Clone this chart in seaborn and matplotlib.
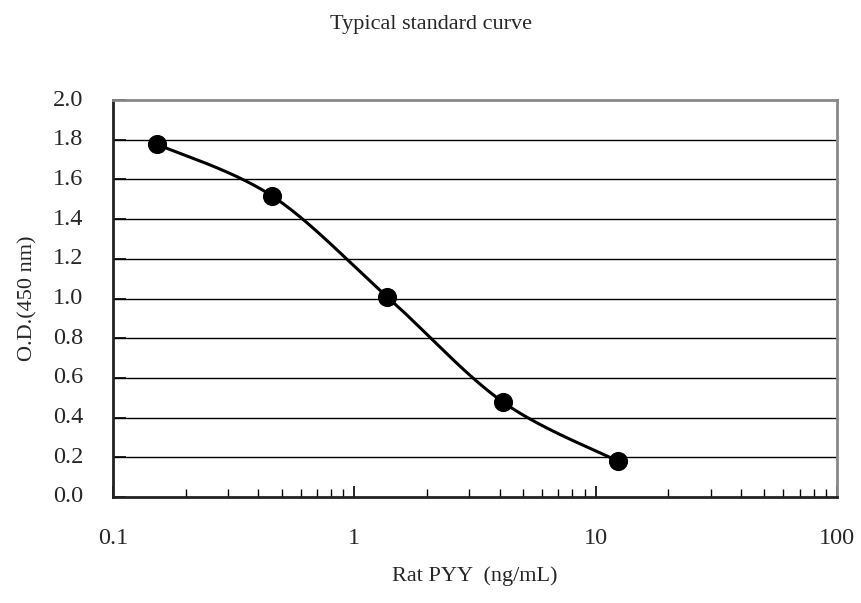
import numpy as np
import pandas as pd
import matplotlib
matplotlib.use("Agg")
import matplotlib.pyplot as plt
import seaborn as sns
from matplotlib.ticker import FixedLocator, LogLocator, NullFormatter, FixedFormatter

# ---- data ----
concentration = [0.152, 0.457, 1.37, 4.12, 12.35]
od_values = [1.777, 1.516, 1.008, 0.479, 0.181]
x_tick_values = [0.1, 1, 10, 100]
x_tick_labels = ["0.1", "1", "10", "100"]
y_tick_values = [0.0, 0.2, 0.4, 0.6, 0.8, 1.0, 1.2, 1.4, 1.6, 1.8, 2.0]
title_text = "Typical standard curve"
x_label = "Rat PYY  (ng/mL)"
y_label = "O.D.(450 nm)"

sns.set_theme(style="white")
plt.rcParams["font.family"] = ["Liberation Serif", "DejaVu Serif"]

fig = plt.figure(figsize=(8.61, 6.03), dpi=100)
ax = fig.add_axes([113 / 861, 1 - 497 / 603, (837 - 113) / 861, (497 - 100) / 603])

# Excel-style smooth line (Catmull-Rom Bezier in display-like space)
u = np.log10(np.array(concentration)) * 242.0
v = np.array(od_values) * 198.5
P = np.column_stack([u, v])
Pext = np.vstack([P[0], P, P[-1]])
t = np.linspace(0, 1, 60)
curve = []
for i in range(len(P) - 1):
    p0, p1, p2, p3 = Pext[i], Pext[i + 1], Pext[i + 2], Pext[i + 3]
    c1 = p1 + (p2 - p0) / 6.0
    c2 = p2 - (p3 - p1) / 6.0
    seg = ((1 - t) ** 3)[:, None] * p1 + (3 * (1 - t) ** 2 * t)[:, None] * c1 \
        + (3 * (1 - t) * t ** 2)[:, None] * c2 + (t ** 3)[:, None] * p2
    curve.append(seg if i == 0 else seg[1:])
curve = np.vstack(curve)
smooth = pd.DataFrame({"x": 10 ** (curve[:, 0] / 242.0), "y": curve[:, 1] / 198.5})
pts = pd.DataFrame({"x": concentration, "y": od_values})

ax.set_xscale("log")
for yv in y_tick_values[1:-1]:
    ax.axhline(yv, color="black", lw=1.0, zorder=1)
sns.lineplot(data=smooth, x="x", y="y", sort=False, color="black", lw=2.2, ax=ax, zorder=3)
sns.scatterplot(data=pts, x="x", y="y", color="black", s=190, edgecolor="black", linewidth=0, ax=ax, zorder=4)

ax.set_xlim(0.1, 100)
ax.set_ylim(0, 2.0)
ax.xaxis.set_major_locator(FixedLocator(x_tick_values))
ax.xaxis.set_major_formatter(FixedFormatter(x_tick_labels))
ax.xaxis.set_minor_locator(LogLocator(base=10, subs=np.arange(2, 10)))
ax.xaxis.set_minor_formatter(NullFormatter())
ax.yaxis.set_major_locator(FixedLocator(y_tick_values))
ax.set_yticklabels([f"{v:.1f}" for v in y_tick_values])

ax.tick_params(axis="x", which="major", direction="in", length=8, width=1.2, color="black",
               labelsize=17.5, pad=22, bottom=True)
ax.tick_params(axis="x", which="minor", direction="in", length=6, width=1.0, color="black", bottom=True)
ax.tick_params(axis="y", which="major", direction="in", length=9, width=1.2, color="black",
               labelsize=17.5, pad=21.5, left=True)
for lbl in ax.get_yticklabels():
    lbl.set_verticalalignment("center")

for side in ["left", "bottom"]:
    ax.spines[side].set_color("#222222")
    ax.spines[side].set_linewidth(2.0)
for side in ["top", "right"]:
    ax.spines[side].set_color("#888888")
    ax.spines[side].set_linewidth(2.0)

ax.set_xlabel(x_label, fontsize=16, labelpad=13)
ax.set_ylabel(y_label, fontsize=16, labelpad=11)
fig.text(0.5, 1 - 24 / 603, title_text, ha="center", va="center", fontsize=16)

fig.savefig("out.png", dpi=100)
